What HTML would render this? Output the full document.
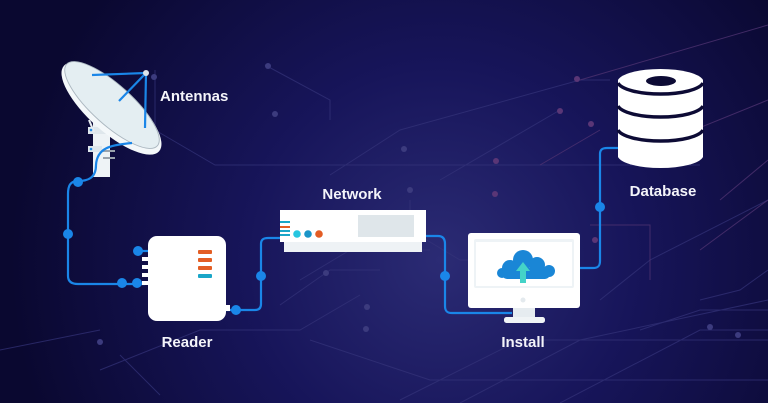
<!DOCTYPE html>
<html><head><meta charset="utf-8"><style>
html,body{margin:0;padding:0;background:#0b0930;}
svg{display:block}
text{font-family:"Liberation Sans",sans-serif;font-weight:bold;fill:#f4f4fa;font-size:15px}
</style></head><body>
<svg width="768" height="403" viewBox="0 0 768 403" xmlns="http://www.w3.org/2000/svg">
<defs>
<radialGradient id="bg" cx="440" cy="260" r="430" gradientUnits="userSpaceOnUse">
<stop offset="0" stop-color="#2b2b74"/><stop offset="0.45" stop-color="#17155a"/><stop offset="1" stop-color="#0a0830"/>
</radialGradient>
</defs>
<rect width="768" height="403" fill="url(#bg)"/>
<g fill="none" stroke="#35347a" stroke-width="1" opacity="0.7">
<path d="M155 70 L155 130 L215 165 L700 165"/>
<path d="M265 65 L330 100 L330 120"/>
<path d="M410 200 L410 230 L460 260 L560 260"/>
<path d="M300 280 L350 250 L430 250"/>
<path d="M280 305 L330 270 L380 270"/>
<path d="M100 370 L200 330 L300 330 L360 295"/>
<path d="M330 175 L400 130 L580 80 L610 80"/>
<path d="M440 180 L560 110"/>
<path d="M120 355 L160 395"/>
<path d="M0 350 L100 330"/>
<path d="M310 340 L430 380 L768 380"/>
<path d="M400 400 L520 340 L768 340"/>
<path d="M460 403 L580 340 L768 300"/>
<path d="M560 403 L700 330 L768 330"/>
<path d="M600 300 L650 260 L768 200"/>
<path d="M700 300 L740 290 L768 270"/>
<path d="M640 330 L700 310 L768 310"/>
</g>
<g fill="none" stroke="#4e3270" stroke-width="1" opacity="0.8">
<path d="M580 80 L768 25"/><path d="M620 160 L768 100"/><path d="M590 225 L650 225 L650 280"/>
<path d="M540 165 L600 130"/><path d="M700 250 L768 200"/><path d="M720 200 L768 160"/>
</g>
<g fill="#3c3b7e">
<circle cx="154" cy="77" r="3"/><circle cx="268" cy="66" r="3"/><circle cx="275" cy="114" r="3"/><circle cx="100" cy="342" r="3"/><circle cx="367" cy="307" r="3"/><circle cx="326" cy="273" r="3"/><circle cx="410" cy="190" r="3"/><circle cx="404" cy="149" r="3"/><circle cx="710" cy="327" r="3"/><circle cx="738" cy="335" r="3"/><circle cx="366" cy="329" r="3"/>
</g>
<g fill="#5a3676"><circle cx="577" cy="79" r="3"/><circle cx="560" cy="111" r="3"/><circle cx="591" cy="124" r="3"/><circle cx="496" cy="161" r="3"/><circle cx="495" cy="194" r="3"/><circle cx="595" cy="240" r="3"/></g>

<!-- antenna mast -->
<rect x="93" y="115" width="17" height="62" fill="#eef3f6"/>
<rect x="88" y="127" width="22" height="7" fill="#dfe7ec"/>
<rect x="88" y="146" width="14" height="6" fill="#dfe7ec"/>
<rect x="103" y="150" width="12" height="2" fill="#9aa3ad"/><rect x="103" y="157" width="12" height="2" fill="#9aa3ad"/>
<line x1="89" y1="120" x2="94" y2="132" stroke="#e9eef2" stroke-width="2"/>
<circle cx="91" cy="130" r="1.3" fill="#2a8ee6"/><circle cx="110" cy="130" r="1.3" fill="#2a8ee6"/><circle cx="91" cy="149" r="1.3" fill="#2a8ee6"/>
<!-- dish -->
<g transform="rotate(42 112 105)">
<ellipse cx="114" cy="108" rx="64" ry="23" fill="#f4f8fa"/>
<ellipse cx="112" cy="105" rx="61" ry="20" fill="#e4eef2" stroke="#aab6bf" stroke-width="0.9"/>
</g>
<g stroke="#1a86e8" stroke-width="2.2" fill="none">
<line x1="92" y1="75" x2="146" y2="73"/><line x1="146" y1="73" x2="119" y2="101"/><line x1="146" y1="73" x2="145" y2="128"/>
</g>
<circle cx="146" cy="73" r="3" fill="#dde4ea"/>
<text x="160" y="101">Antennas</text>

<!-- blue connectors -->
<g fill="none" stroke="#1a86e8" stroke-width="2.2">
<path d="M132 143 C110 145 97 148 96 165 C96 178 88 181 78 181 C70 181 68 186 68 194 L68 276 C68 282 72 284 78 284 L145 284"/>
<path d="M137 251 L148 251"/>
<path d="M225 310 L255 310 C259 310 261 308 261 304 L261 244 C261 240 263 238 268 238 L282 238"/>
<path d="M426 236 L438 236 C443 236 445 239 445 244 L445 306 C445 311 447 313 452 313 L512 313"/>
<path d="M578 268 L593 268 C598 268 600 266 600 261 L600 154 C600 150 602 148 607 148 L620 148"/>
</g>
<g fill="#1a86e8">
<circle cx="78" cy="182" r="5"/><circle cx="68" cy="234" r="5"/><circle cx="122" cy="283" r="5"/><circle cx="137" cy="283" r="5"/><circle cx="138" cy="251" r="5"/>
<circle cx="236" cy="310" r="5"/><circle cx="261" cy="276" r="5"/><circle cx="445" cy="276" r="5"/><circle cx="600" cy="207" r="5"/>
</g>

<!-- reader -->
<rect x="142" y="257" width="8" height="4" fill="#fff"/><rect x="142" y="265" width="8" height="4" fill="#fff"/><rect x="142" y="273" width="8" height="4" fill="#fff"/><rect x="142" y="281" width="8" height="4" fill="#fff"/>
<rect x="224" y="305" width="6" height="6" fill="#fff"/>
<rect x="148" y="236" width="78" height="85" rx="9" fill="#ffffff"/>
<g fill="#e35d24"><rect x="198" y="250" width="14" height="4" rx="1"/><rect x="198" y="258" width="14" height="4" rx="1"/><rect x="198" y="266" width="14" height="4" rx="1"/></g>
<rect x="198" y="274" width="14" height="4" rx="1" fill="#1aa6c8"/>
<text x="187" y="347" text-anchor="middle" font-size="16">Reader</text>

<!-- network -->
<rect x="280" y="210" width="146" height="32" fill="#ffffff"/>
<rect x="284" y="242" width="138" height="10" fill="#eef2f5"/>
<rect x="358" y="215" width="56" height="22" fill="#dfe6ea"/>
<rect x="280" y="221" width="10" height="2" fill="#1aa6c8"/><rect x="280" y="226" width="10" height="2" fill="#e35d24"/><rect x="280" y="230" width="10" height="2" fill="#1aa6c8"/><rect x="280" y="234" width="10" height="2" fill="#1aa6c8"/>
<circle cx="297" cy="234" r="3.8" fill="#27c6e0"/><circle cx="308" cy="234" r="3.8" fill="#1a95c8"/><circle cx="319" cy="234" r="3.8" fill="#e35d24"/>
<text x="352" y="199" text-anchor="middle" font-size="15">Network</text>

<!-- monitor -->
<rect x="468" y="233" width="112" height="75" rx="3" fill="#ffffff"/>
<rect x="474" y="239" width="100" height="49" rx="2" fill="#eef3f6"/>
<rect x="476" y="242" width="96" height="44" fill="#fff"/>
<circle cx="523" cy="300" r="2.5" fill="#e4eaee"/>
<rect x="513" y="308" width="22" height="10" fill="#e6ecf0"/>
<rect x="504" y="317" width="41" height="6" rx="2.5" fill="#f0f4f6"/>
<g fill="#1a86d6">
<circle cx="523" cy="260" r="10"/><circle cx="510" cy="268" r="8"/><circle cx="537" cy="265" r="8"/><circle cx="549" cy="271" r="6"/><circle cx="502" cy="273" r="5"/>
<rect x="502" y="268" width="48" height="11" rx="5"/>
</g>
<path d="M523 262 L530 271 L526 271 L526 283 L520 283 L520 271 L516 271 Z" fill="#44d3c8"/>
<text x="523" y="347" text-anchor="middle" font-size="16">Install</text>

<!-- database -->
<path d="M618 80 A43 13 0 0 1 703 80 L703 157 A43 13 0 0 1 618 157 Z" fill="#ffffff"/>
<g fill="none" stroke="#0d0b35" stroke-width="3.5">
<path d="M618 83 A43 13 0 0 0 703 83"/>
<path d="M618 106 A43 13 0 0 0 703 106"/>
<path d="M618 130 A43 13 0 0 0 703 130"/>
</g>
<ellipse cx="661" cy="81" rx="15" ry="5" fill="#0d0b35"/>
<text x="663" y="196" text-anchor="middle" font-size="16">Database</text>
</svg>
</body></html>
